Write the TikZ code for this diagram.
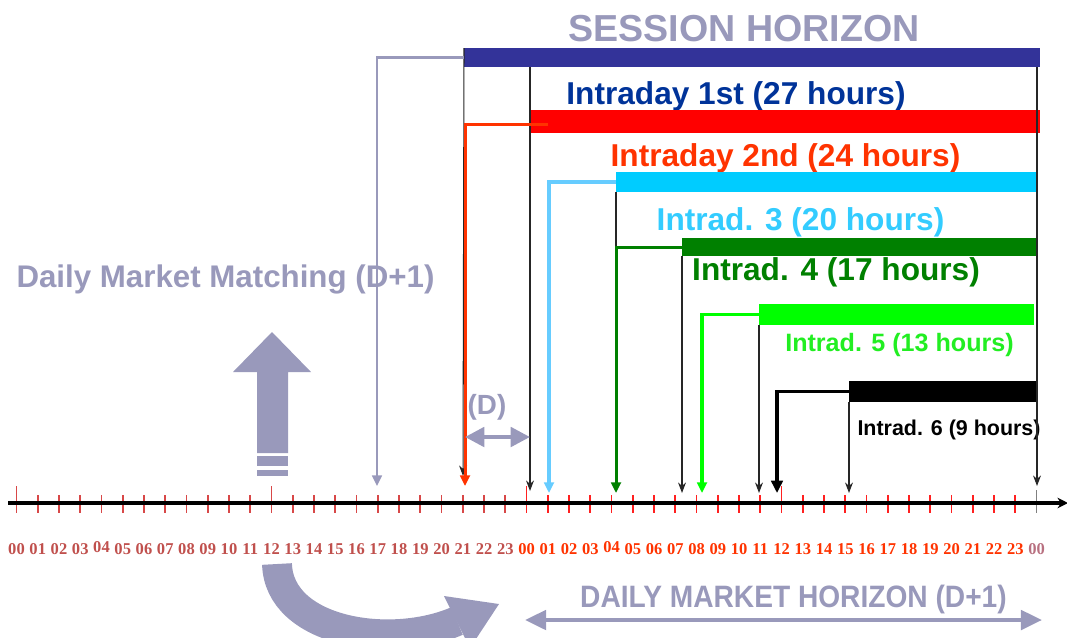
\documentclass[tikz,border=0pt]{standalone}
\usepackage{fontspec}
\setmainfont{Liberation Sans}
\newfontfamily\hourfont{Liberation Serif}
\newfontfamily\narrowfont[FakeStretch=0.91]{Liberation Sans}
\usetikzlibrary{arrows,arrows.meta,fit}
\definecolor{horizon}{HTML}{9999BB}
\definecolor{sessblue}{HTML}{333399}
\definecolor{firstblue}{HTML}{003399}
\definecolor{secondred}{HTML}{FF3300}
\definecolor{thirdcyan}{HTML}{00CCFF}
\definecolor{thirdtext}{HTML}{33CCFF}
\definecolor{thirdline}{HTML}{66CCFF}
\definecolor{fourthgreen}{HTML}{008000}
\definecolor{fifthgreen}{HTML}{00FF00}
\definecolor{fifthtext}{HTML}{22EE22}
\definecolor{dayone}{HTML}{C0504D}
\definecolor{lastday}{HTML}{B87080}
\definecolor{tickone}{HTML}{D84848}
\definecolor{ticktwo}{HTML}{FF2020}

\begin{document}
\begin{tikzpicture}
  [x=0.02cm,y=-0.02cm,>={Stealth[length=6pt,width=4.5pt]},
   every node/.style={inner sep=0pt,outer sep=0pt}]

  \tikzstyle{lbl} = [anchor=base,font=\bfseries\fontsize{18}{20}\selectfont]
  \tikzstyle{bar} = [draw=none]
  \tikzstyle{wire} = [line width=1.4pt,-{Triangle[length=6pt,width=5.5pt]}]
  \tikzstyle{thinwire} = [line width=0.6pt,black!85]
  \tikzstyle{twoway} = [horizon,line width=2.3pt,
    {Triangle[length=11pt,width=11pt]}-{Triangle[length=11pt,width=11pt]}]

  \useasboundingbox (0,0) rectangle (1067,637);
  \clip (0,0) rectangle (1067,637);

  \node[lbl,horizon,font=\bfseries\fontsize{21.4}{24}\selectfont] (sh) at (744,41) {SESSION HORIZON};
  \node[lbl,firstblue] (l1) at (736,104) {Intraday 1st (27 hours)};
  \node[lbl,secondred] (l2) at (785.5,166) {Intraday 2nd (24 hours)};
  \node[lbl,thirdtext] (l3) at (800.5,230) {Intrad. 3 (20 hours)};
  \node[lbl,fourthgreen] (l4) at (836,280) {Intrad. 4 (17 hours)};
  \node[lbl,fifthtext,font=\bfseries\fontsize{14.3}{16}\selectfont] (l5) at (899.5,351) {Intrad. 5 (13 hours)};
  \node[lbl,black,font=\bfseries\fontsize{12.2}{14}\selectfont] (l6) at (949,435) {Intrad. 6 (9 hours)};
  \node[lbl,horizon,font=\bfseries\fontsize{17.8}{20}\selectfont] (dmm) at (225.5,287) {Daily Market Matching (D+1)};
  \node[lbl,horizon,font=\bfseries\fontsize{15.8}{18}\selectfont] (dlab) at (487,414) {(D)};
  \node[lbl,horizon,font=\narrowfont\bfseries\fontsize{17.6}{20}\selectfont] (dmh) at (793.5,607) {DAILY MARKET HORIZON (D+1)};

  \node[bar,fill=sessblue,fit={(464,48) (1040,67)}] (s1) {};
  \node[bar,fill=red,fit={(530,110) (1040,133)}] (s2) {};
  \node[bar,fill=thirdcyan,fit={(616,172) (1036,192)}] (s3) {};
  \node[bar,fill=fourthgreen,fit={(682,238) (1036,256)}] (s4) {};
  \node[bar,fill=fifthgreen,fit={(759,304) (1034,325)}] (s5) {};
  \node[bar,fill=black,fit={(849,381) (1036,402)}] (s6) {};

  \foreach \h in {0,...,47}{
    \pgfmathsetmacro\tx{16.5+21.25*\h}
    \pgfmathtruncatemacro\tm{mod(\h,12)}
    \ifnum\h<24 \def\tc{tickone}\else\def\tc{ticktwo}\fi
    \ifnum\tm=0 \def\ty{486}\else\def\ty{495}\fi
    \draw[\tc,line width=0.9pt] (\tx,\ty) -- (\tx,513);
  }
  \draw[gray,line width=0.9pt] (1036.5,490) -- (1036.5,513);
  \coordinate (ax0) at (8,503);
  \coordinate (ax1) at (1068,503);
  \draw[line width=2.3pt,-{Stealth[length=6pt,width=6pt]}] (ax0) -- (ax1);

  \foreach \h in {0,...,48}{
    \pgfmathsetmacro\tx{16.5+21.25*\h}
    \pgfmathtruncatemacro\hh{mod(\h,24)}
    \ifnum\h<24 \def\tc{dayone}\else\ifnum\h<48 \def\tc{secondred}\else\def\tc{lastday}\fi\fi
    \ifnum\hh=4 \def\ty{552}\else\def\ty{554}\fi
    \node[anchor=base,text=\tc,font=\hourfont\bfseries\fontsize{9.4}{10}\selectfont]
      (hr\h) at (\tx,\ty) {\ifnum\hh<10 0\fi\hh};
  }

  \coordinate (o1) at (463,476);
  \coordinate (o2) at (530,491);
  \coordinate (o4) at (682,493);
  \coordinate (o5) at (759,493);
  \coordinate (o6) at (849,493);
  \coordinate (o7) at (1037,486);
  \path[->,thinwire]
    (s1.north west) edge (o1)
    (s1.south -| s2.west) edge (o2)
    (s1.south -| o7) edge (o7)
    (s4.south west) edge (o4)
    (s5.south west) edge (o5)
    (s6.south west) edge (o6);
  \draw[thinwire] (s3.south west) -- (s3.south west |- s4.west);

  \coordinate (g1) at (377,486);
  \coordinate (g2) at (465,486);
  \coordinate (g3) at (549,493);
  \coordinate (g4) at (616,493);
  \coordinate (g5) at (702,493);
  \coordinate (g6) at (777,493);
  \coordinate (c2) at (548,124);
  \draw[wire,horizon,line width=1.3pt] (s1.west) -| (g1);
  \draw[wire,secondred,line width=1.7pt] (c2) -| (g2);
  \draw[wire,thirdline,line width=1.8pt] (s3.west) -| (g3);
  \draw[wire,fourthgreen,line width=1.7pt] (s4.west) -| (g4);
  \draw[wire,fifthgreen,line width=1.8pt] (s5.west) -| (g5);
  \draw[wire,black,line width=1.9pt,-{Triangle[length=7pt,width=6.5pt]}] (s6.west) -| (g6);

  \coordinate (d1) at (465,437);
  \coordinate (d2) at (530,437);
  \draw[twoway] (d1) -- (d2);
  \coordinate (h1) at (525,620);
  \coordinate (h2) at (1042,620);
  \draw[twoway,{Triangle[length=12pt,width=11pt]}-{Triangle[length=12pt,width=11pt]}] (h1) -- (h2);

  \fill[horizon] (272,332) -- (311,372) -- (288,372) -- (288,453) -- (257,453)
    -- (257,372) -- (233,372) -- cycle;
  \fill[horizon] (257,456) rectangle (288,466);
  \fill[horizon] (257,470) rectangle (288,476);

  \draw[horizon,line width=17pt] (277,564) .. controls (279,632) and (390,650) .. (457,621);
  \fill[horizon] (444,596) -- (499,604) -- (470,648) -- cycle;
\end{tikzpicture}
\end{document}
